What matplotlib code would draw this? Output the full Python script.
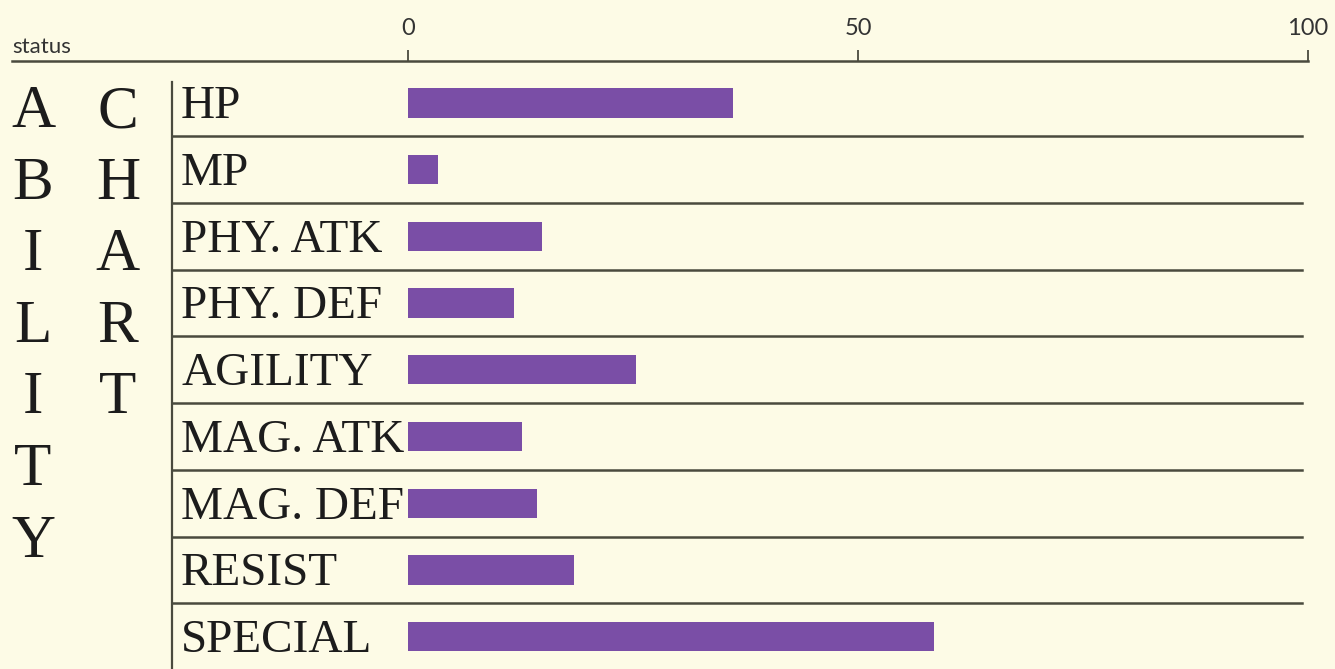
import matplotlib.pyplot as plt
from matplotlib import transforms
from matplotlib.lines import Line2D

# chart data
categories = ["HP", "MP", "PHY. ATK", "PHY. DEF", "AGILITY",
              "MAG. ATK", "MAG. DEF", "RESIST", "SPECIAL"]
values = [36.1, 3.3, 14.9, 11.8, 25.3, 12.7, 14.3, 18.4, 58.4]
ticks = [0, 50, 100]
side_left = "ABILITY"
side_right = "CHART"
corner_label = "status"

W, H = 1335, 669
BG = "#fdfbe6"
BAR = "#7a4ea6"
INK = "#1c1c1c"
LINE = "#4a4a3e"
SERIF = "Liberation Serif"
SANS = "Lato"


def fx(px):
    return px / W


def fy(py):
    return 1 - py / H


def main():
    fig = plt.figure(figsize=(W / 100, H / 100), dpi=100, facecolor=BG)
    ax = fig.add_axes([fx(408), 0, fx(1308) - fx(408), fy(61)])
    ax.set_facecolor(BG)

    rows = list(range(len(categories)))
    ax.barh(rows, values, height=0.44, color=BAR)

    # x axis on top, short ticks pointing up
    ax.xaxis.tick_top()
    ax.set_xticks(ticks)
    ax.tick_params(axis="x", direction="out", length=8, width=1.3,
                   pad=8, labelsize=17, colors=LINE, labelcolor="#333333")
    for lbl in ax.get_xticklabels():
        lbl.set_fontfamily(SANS)
    ax.set_yticks([])
    for s in ax.spines.values():
        s.set_visible(False)

    # long top rule and the vertical rule beside the labels
    fig.add_artist(Line2D([fx(12), fx(1308)], [fy(61), fy(61)],
                          transform=fig.transFigure, lw=1.8, color=LINE))
    fig.add_artist(Line2D([fx(172), fx(172)], [fy(82), 0],
                          transform=fig.transFigure, lw=1.6, color=LINE))

    # row separators and category labels
    trans = transforms.blended_transform_factory(fig.transFigure, ax.transData)
    for i, cat in enumerate(categories):
        if i < len(categories) - 1:
            ax.plot([fx(172), fx(1302)], [i + 0.5, i + 0.5], transform=trans,
                    color=LINE, lw=1.8, clip_on=False)
        ax.text(fx(181), i + 0.23, cat, transform=trans, ha="left",
                va="baseline", fontsize=34, fontfamily=SERIF, color=INK)

    ax.set_xlim(0, 100)
    ax.set_ylim(8.486, -0.63)

    # vertical title letters
    for j, ch in enumerate(side_left):
        fig.text(fx(33), fy(127 + 71.6 * j), ch, ha="center", va="baseline",
                 fontsize=44, fontfamily=SERIF, color=INK)
    for j, ch in enumerate(side_right):
        fig.text(fx(118), fy(127 + 71.6 * j), ch, ha="center", va="baseline",
                 fontsize=44, fontfamily=SERIF, color=INK)

    fig.text(fx(12), fy(53), corner_label, ha="left", va="baseline",
             fontsize=16, fontfamily=SANS, color="#333333")

    fig.savefig("out.png", dpi=100, facecolor=BG)


if __name__ == "__main__":
    main()
